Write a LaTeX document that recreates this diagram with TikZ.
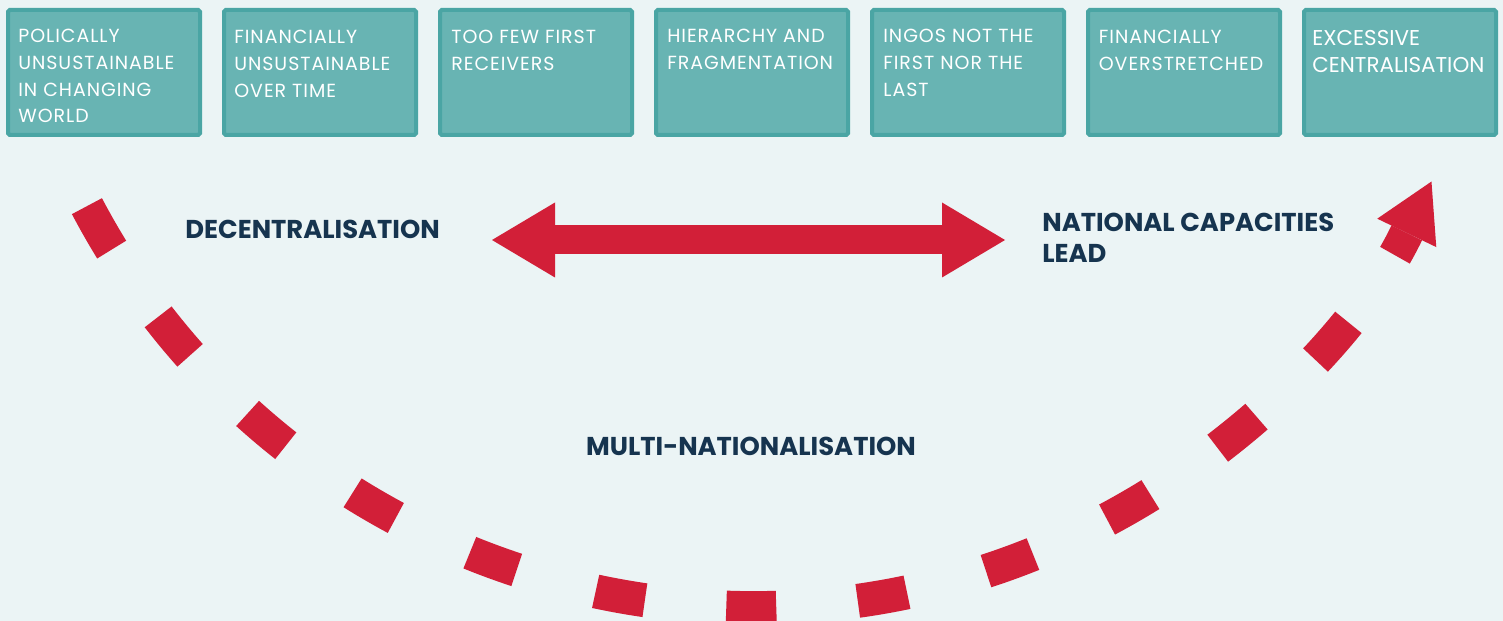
\documentclass[tikz,border=0pt]{standalone}
\usepackage{fontspec}
\setmainfont{Poppins}
\usepackage{xcolor}
\usepackage{tikz}
\usetikzlibrary{arrows.meta, positioning, calc}
\definecolor{bgpale}{HTML}{EBF4F5}
\definecolor{boxfill}{HTML}{68B4B3}
\definecolor{boxline}{HTML}{4AA5A4}
\definecolor{arrowred}{HTML}{D21F38}
\definecolor{navy}{HTML}{16344F}

\begin{document}
\begin{tikzpicture}[
  issue/.style={draw=boxline, fill=boxfill, line width=0.08cm, rounded corners=1pt,
    minimum width=3.84cm, minimum height=2.5cm, inner sep=0pt},
  issuetext/.style={text=white, font=\fontsize{10.8}{15.3}\selectfont\addfontfeatures{LetterSpace=5},
    align=left, inner sep=0pt},
  phase/.style={text=navy, font=\fontsize{14.7}{17.7}\selectfont\bfseries, inner sep=0pt},
  bigarrow/.style={draw=arrowred, line width=0.58cm,
    {Triangle[length=1.26cm,width=1.5cm,line width=0pt]}-{Triangle[length=1.26cm,width=1.5cm,line width=0pt]}},
  uturn/.style={draw=arrowred, line width=0.68cm, dash pattern=on 1cm off 1.636cm,
    -{Triangle[length=1.14cm,width=1.31cm,line width=0pt]}}
]
\useasboundingbox (0,0) rectangle (30.06,-12.42);
\fill[bgpale] (0,0) rectangle (30.06,-12.42);

% the seven issue boxes
\node[issue] (b1) at (2.08,-1.45) {};
\node[issue, right=0.4cm of b1] (b2) {};
\node[issue, right=0.4cm of b2] (b3) {};
\node[issue, right=0.4cm of b3] (b4) {};
\node[issue, right=0.4cm of b4] (b5) {};
\node[issue, right=0.4cm of b5] (b6) {};
\node[issue, right=0.4cm of b6] (b7) {};

\node[issuetext, below right=0.41cm and 0.24cm of b1.north west] (t1) {POLICALLY\\UNSUSTAINABLE\\IN CHANGING\\WORLD};
\node[issuetext, below right=0.44cm and 0.24cm of b2.north west] (t2) {FINANCIALLY\\UNSUSTAINABLE\\OVER TIME};
\node[issuetext, below right=0.44cm and 0.26cm of b3.north west] (t3) {TOO FEW FIRST\\RECEIVERS};
\node[issuetext, below right=0.41cm and 0.26cm of b4.north west] (t4) {HIERARCHY AND\\FRAGMENTATION};
\node[issuetext, below right=0.41cm and 0.26cm of b5.north west] (t5) {INGOS NOT THE\\FIRST NOR THE\\LAST};
\node[issuetext, below right=0.44cm and 0.25cm of b6.north west] (t6) {FINANCIALLY\\OVERSTRETCHED};
\node[issuetext, font=\fontsize{12.2}{15.3}\selectfont, below right=0.45cm and 0.2cm of b7.north west] (t7) {EXCESSIVE\\CENTRALISATION};

% phase labels
\node[phase, anchor=base west] (dec) at (3.70,-4.77) {DECENTRALISATION};
\node[phase, anchor=base] (multi) at (15.02,-9.10) {MULTI-NATIONALISATION};
\node[phase, anchor=north west, align=left] (nat) at (20.84,-4.25) {NATIONAL CAPACITIES\\LEAD};

% double arrow
\coordinate (al) at (9.84,-4.8);
\coordinate (ar) at (20.10,-4.8);
\draw[bigarrow] (al) -- (ar);

% dashed u-turn
\coordinate (ctr) at (15.06,2.90);
\draw[uturn] ($(ctr)+(207.8:15.06)$) arc[start angle=207.8, end angle=334.3, radius=15.06];
\end{tikzpicture}
\end{document}
